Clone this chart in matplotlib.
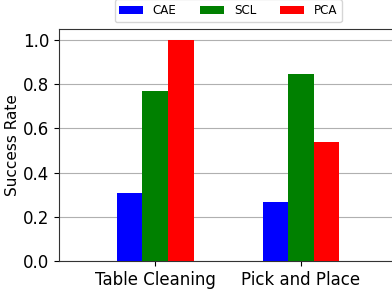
import matplotlib
matplotlib.use("Agg")
import matplotlib.pyplot as plt
import numpy as np

categories = ["Table Cleaning", "Pick and Place"]
series_names = ["CAE", "SCL", "PCA"]
cae = [0.306, 0.268]
scl = [0.769, 0.846]
pca = [1.0, 0.537]
colors = ["blue", "green", "red"]

fig = plt.figure(figsize=(3.92, 2.91), dpi=100)
ax = fig.add_axes([0.1505, 0.103, 0.863, 0.797])
x = np.arange(len(categories))
w = 0.175
for i, (vals, name, c) in enumerate(zip([cae, scl, pca], series_names, colors)):
    ax.bar(x + (i - 1) * w, vals, w, color=c, label=name, zorder=3)

ax.set_xlim(-0.66, 1.66)
ax.set_ylim(0, 1.05)
ax.set_yticks([0.0, 0.2, 0.4, 0.6, 0.8, 1.0])
ax.set_xticks(x)
ax.set_xticklabels(categories, fontsize=12)
ax.tick_params(axis="y", labelsize=12)
ax.set_ylabel("Success Rate", fontsize=11, labelpad=2)
ax.yaxis.grid(True, color="#b0b0b0", linewidth=0.8, zorder=0)
ax.set_axisbelow(True)
for s in ax.spines.values():
    s.set_color("#333333")
ax.legend(loc="lower center", bbox_to_anchor=(0.5, 1.0), ncol=3, fontsize=8.6,
          frameon=True, borderaxespad=0.6)
fig.savefig("out.png", dpi=100)
